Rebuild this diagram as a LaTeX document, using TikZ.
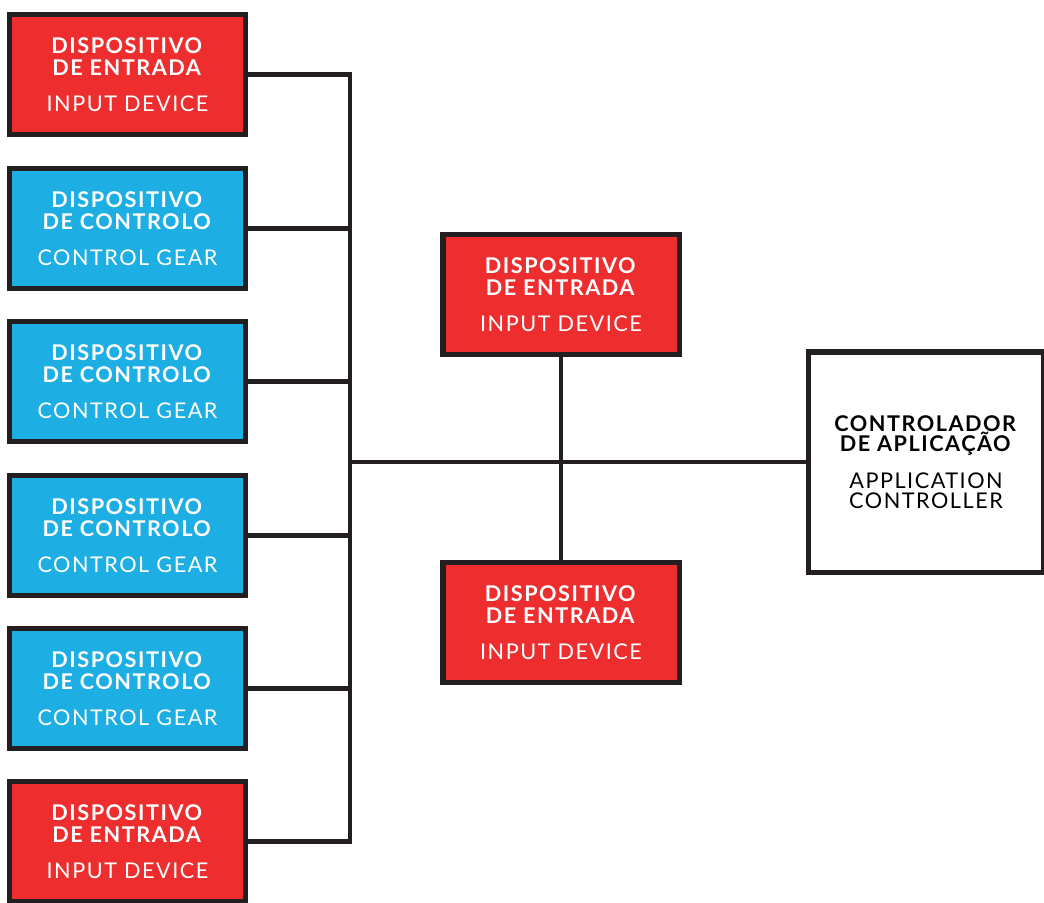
\documentclass[tikz,border=0pt]{standalone}
\usepackage{fontspec}
\setmainfont{Lato}
\newfontfamily\boxfont{Lato}[LetterSpace=7]
\definecolor{devred}{HTML}{EE2D2F}
\definecolor{gearblue}{HTML}{1DAEE4}
\definecolor{edgegray}{HTML}{231F20}
\begin{document}
\begin{tikzpicture}[x=0.025cm, y=-0.025cm,
    devbox/.style={draw=edgegray, line width=3.6pt, minimum width=5.9cm, minimum height=3cm, align=center, text=white, inner sep=0pt, font={\boxfont\fontsize{15.4}{15.6}\selectfont}},
    inbox/.style={devbox, fill=devred},
    gearbox/.style={devbox, fill=gearblue},
    wire/.style={draw=edgegray, line width=2.9pt}]
    \useasboundingbox (0,0) rectangle (1044,902);

    \node[inbox] (in1) at (127.5,74.5) {\textbf{DISPOSITIVO}\\\textbf{DE ENTRADA}\\[10.2pt]INPUT DEVICE};
    \node[gearbox] (cg1) at (127.5,228.5) {\textbf{DISPOSITIVO}\\\textbf{DE CONTROLO}\\[10.2pt]CONTROL GEAR};
    \node[gearbox] (cg2) at (127.5,381.5) {\textbf{DISPOSITIVO}\\\textbf{DE CONTROLO}\\[10.2pt]CONTROL GEAR};
    \node[gearbox] (cg3) at (127.5,535.5) {\textbf{DISPOSITIVO}\\\textbf{DE CONTROLO}\\[10.2pt]CONTROL GEAR};
    \node[gearbox] (cg4) at (127.5,688.5) {\textbf{DISPOSITIVO}\\\textbf{DE CONTROLO}\\[10.2pt]CONTROL GEAR};
    \node[inbox] (in2) at (127.5,841.5) {\textbf{DISPOSITIVO}\\\textbf{DE ENTRADA}\\[10.2pt]INPUT DEVICE};

    \node[inbox] (mid1) at (561,294.5) {\textbf{DISPOSITIVO}\\\textbf{DE ENTRADA}\\[10.2pt]INPUT DEVICE};
    \node[inbox] (mid2) at (561,622.5) {\textbf{DISPOSITIVO}\\\textbf{DE ENTRADA}\\[10.2pt]INPUT DEVICE};

    \node[devbox, fill=white, text=black, minimum width=5.875cm, minimum height=5.5cm, font={\boxfont\fontsize{15.4}{14.4}\selectfont}] (app) at (926,462)
        {\textbf{CONTROLADOR}\\\textbf{DE APLICAÇÃO}\\[11.6pt]APPLICATION\\CONTROLLER};

    \coordinate (bus) at (350,462);
    \foreach \n in {in1,cg1,cg2,cg3,cg4,in2}
        \draw[wire] (\n.east) -- (\n.east -| bus);
    \draw[wire, line cap=rect] (in1.east -| bus) -- (in2.east -| bus);
    \draw[wire] (bus) -- (app.west);
    \draw[wire] (mid1.south) -- (mid2.north);
\end{tikzpicture}
\end{document}
